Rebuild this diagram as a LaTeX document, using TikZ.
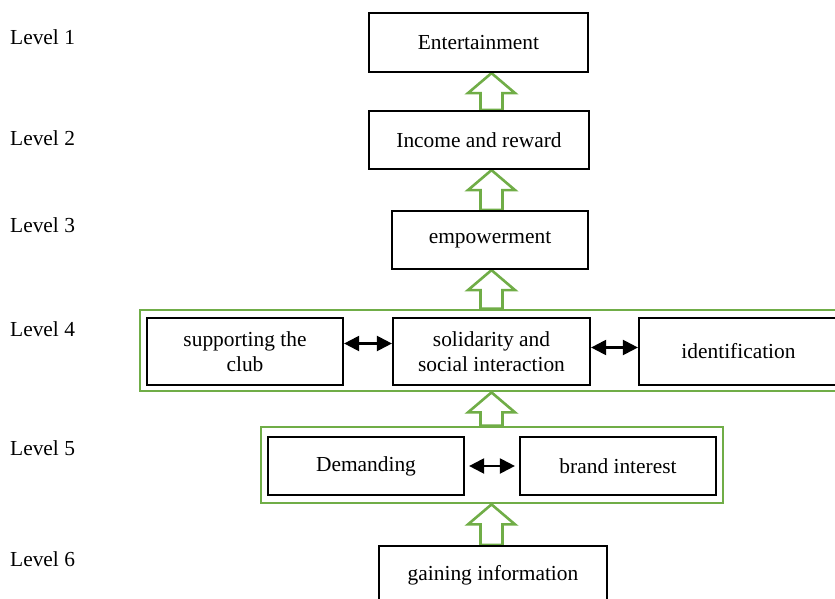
\documentclass[tikz,border=0pt]{standalone}
\usepackage{fontspec}
\setmainfont{Liberation Serif}
\usetikzlibrary{arrows.meta,calc}
\pgfdeclarelayer{edgelayer}
\pgfdeclarelayer{nodelayer}
\pgfsetlayers{edgelayer,nodelayer,main}
\definecolor{levelgreen}{RGB}{112,173,71}
\tikzstyle{box}=[rectangle, draw=black, line width=2.2pt, align=center, minimum width=196pt, minimum height=58pt, inner sep=2pt]
\tikzstyle{frame}=[rectangle, draw=levelgreen, line width=2.8pt, inner sep=0pt]
\tikzstyle{levellabel}=[anchor=west, inner sep=0pt]
\tikzstyle{link}=[draw=black, line width=2.2pt, {Triangle[length=15pt,width=15pt]}-{Triangle[length=15pt,width=15pt]}]
\tikzstyle{blockup}=[draw=levelgreen, fill=white, line width=2.6pt, line join=miter,
  to path={let \p1=(\tikztostart), \p2=(\tikztotarget) in
    (\x1-11pt,\y1) -- (\x1-11pt,\y2-20pt) -- (\x1-23.5pt,\y2-20pt) -- (\x1,\y2)
    -- (\x1+23.5pt,\y2-20pt) -- (\x1+11pt,\y2-20pt) -- (\x1+11pt,\y1) -- cycle}]

\begin{document}
\begin{tikzpicture}[x=1pt, y=-1pt, font=\fontsize{21.4}{25}\selectfont]
	\useasboundingbox (0,0) rectangle (835,599);
	\coordinate (ax) at (491.5,0);
	\begin{pgfonlayer}{nodelayer}
		\node [style=levellabel] (l1) at (10,37) {Level 1};
		\node [style=levellabel] (l2) at (10,138) {Level 2};
		\node [style=levellabel] (l3) at (10,225) {Level 3};
		\node [style=levellabel] (l4) at (10,329) {Level 4};
		\node [style=levellabel] (l5) at (10,448) {Level 5};
		\node [style=levellabel] (l6) at (10,559) {Level 6};

		\node [style=box, minimum width=219pt, minimum height=59pt] (1) at (478.5,42.5) {Entertainment};
		\node [style=box, minimum width=220pt] (2) at (479,140) {Income and reward};
		\node [style=box] (3) at (490,240) {empowerment};

		\node [style=frame, minimum width=702pt, minimum height=81pt] (f4) at (491,350.5) {};
		\node [style=box, minimum height=67pt] (4a) at (245,351.5) {supporting the\\club};
		\node [style=box, minimum width=197pt, minimum height=67pt] (4b) at (491.5,351.5) {solidarity and\\social interaction};
		\node [style=box, minimum width=199pt, minimum height=67pt] (4c) at (738.5,351.5) {identification};

		\node [style=frame, minimum width=462pt, minimum height=76pt] (f5) at (492,465) {};
		\node [style=box] (5a) at (366,466) {Demanding};
		\node [style=box] (5b) at (618,466) {brand interest};

		\node [style=box, minimum width=228pt, minimum height=59pt] (6) at (493,575.5) {gaining information};
	\end{pgfonlayer}
	\begin{pgfonlayer}{edgelayer}
		\draw [style=blockup] (2.north -| ax) to (1.south -| ax);
		\draw [style=blockup] (3.north -| ax) to (2.south -| ax);
		\draw [style=blockup] (f4.north -| ax) to (3.south -| ax);
		\draw [style=blockup] (f5.north -| ax) to (f4.south -| ax);
		\draw [style=blockup] (6.north -| ax) to (f5.south -| ax);
		\draw [style=link] ([yshift=8pt]4a.east) to ([yshift=8pt]4b.west);
		\draw [style=link] ([yshift=4pt]4b.east) to ([yshift=4pt]4c.west);
		\draw [style=link, shorten <=4pt, shorten >=4pt] (5a) to (5b);
	\end{pgfonlayer}
\end{tikzpicture}
\end{document}
